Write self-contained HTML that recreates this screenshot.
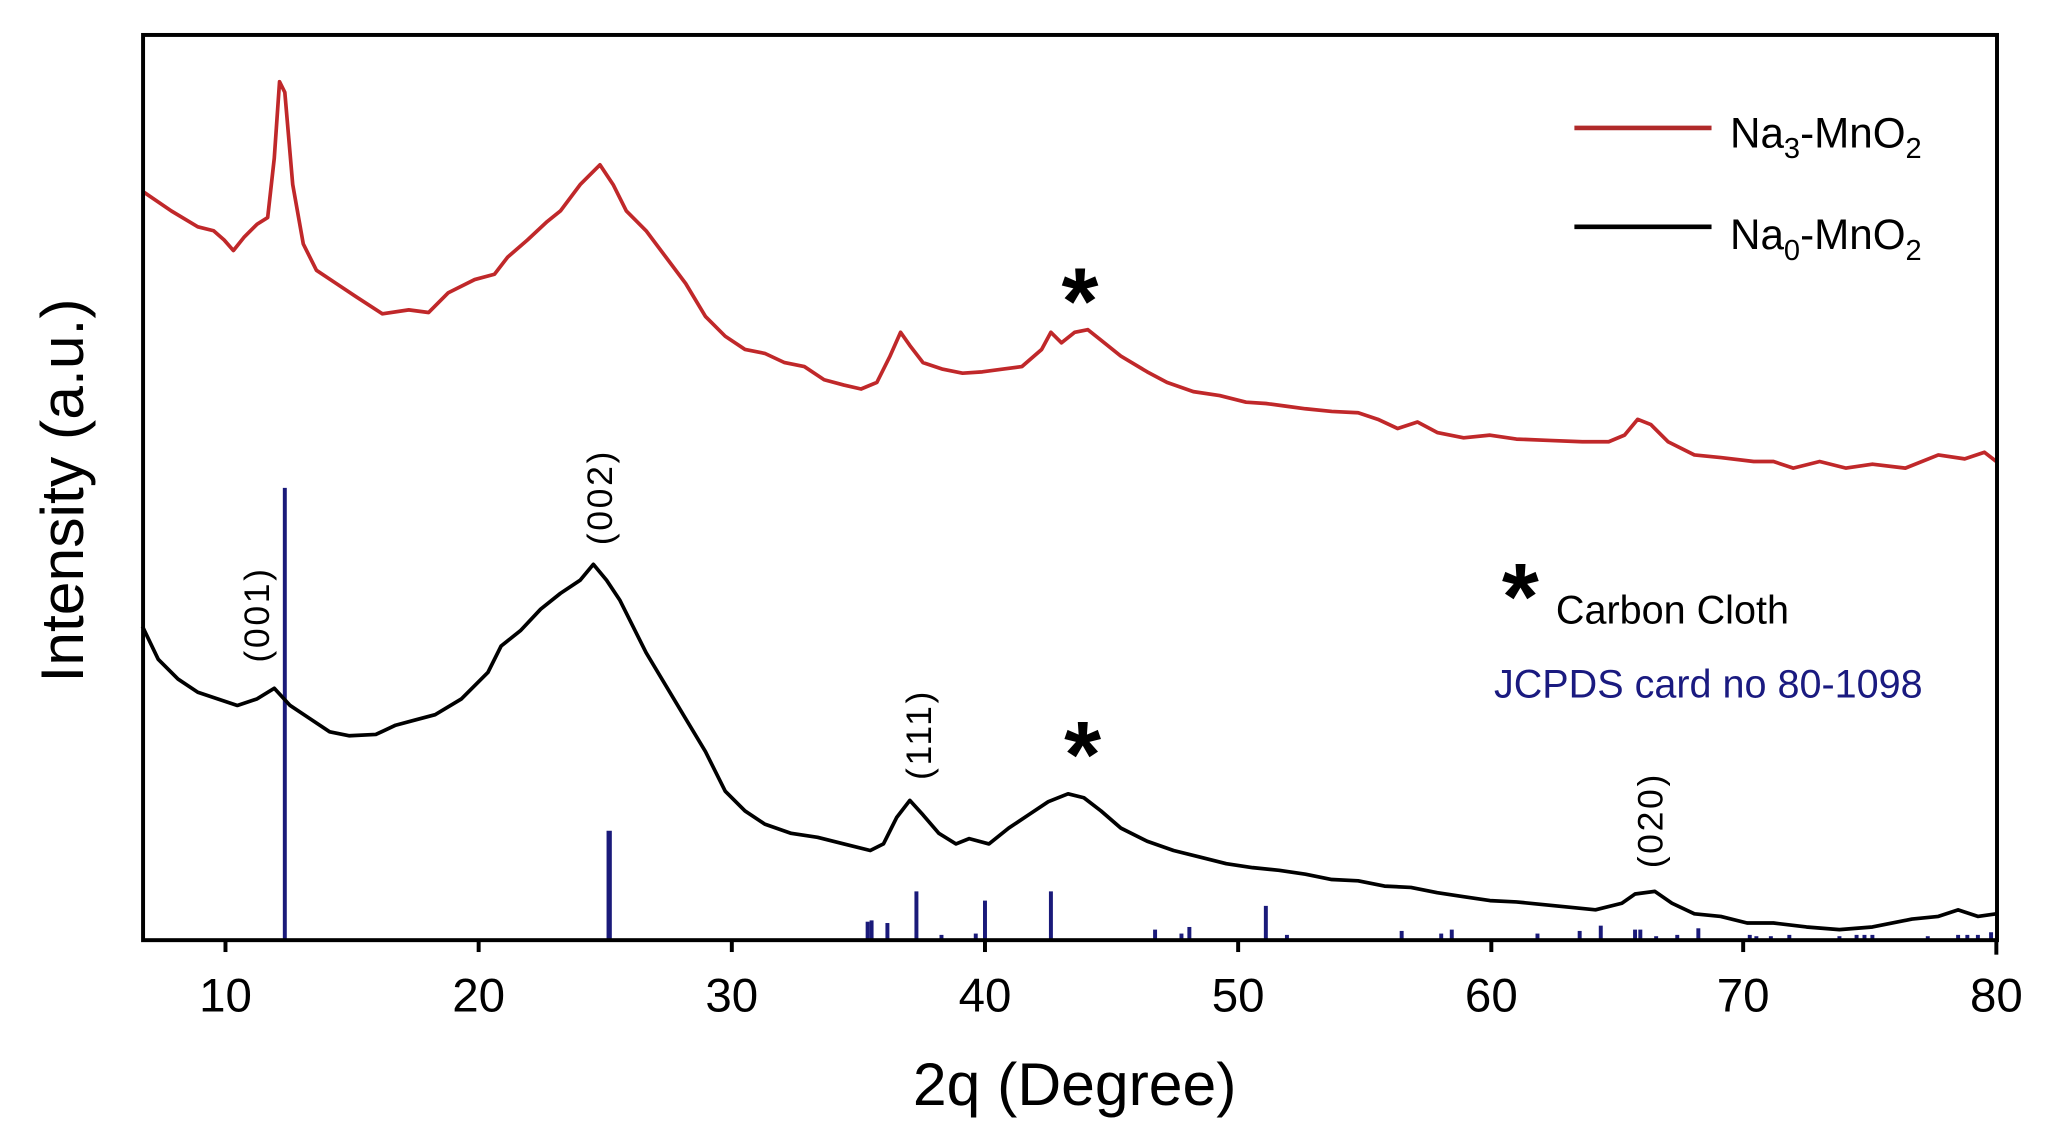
<!DOCTYPE html>
<html><head><meta charset="utf-8"><style>html,body{margin:0;padding:0;background:#fff}svg{display:block}</style></head>
<body>
<svg width="2057" height="1134" viewBox="0 0 1560 860" xmlns="http://www.w3.org/2000/svg" font-family="Liberation Sans, Arial, sans-serif">
<rect width="1560" height="860" fill="#fff"/>
<g stroke="#1a1a7a" fill="none">
<line x1="216" y1="713" x2="216" y2="370" stroke-width="3"/>
<line x1="462" y1="713" x2="462" y2="630" stroke-width="4"/>
<g stroke-width="3">
<line x1="658" y1="713" x2="658" y2="699"/><line x1="661" y1="713" x2="661" y2="698"/>
<line x1="673" y1="713" x2="673" y2="700"/><line x1="695" y1="713" x2="695" y2="676"/>
<line x1="714" y1="713" x2="714" y2="709"/><line x1="740" y1="713" x2="740" y2="708"/>
<line x1="747" y1="713" x2="747" y2="683"/><line x1="797" y1="713" x2="797" y2="676"/>
<line x1="876" y1="713" x2="876" y2="705"/><line x1="896" y1="713" x2="896" y2="708"/>
<line x1="902" y1="713" x2="902" y2="703"/><line x1="960" y1="713" x2="960" y2="687"/>
<line x1="976" y1="713" x2="976" y2="709"/><line x1="1063" y1="713" x2="1063" y2="706"/>
<line x1="1093" y1="713" x2="1093" y2="708"/><line x1="1101" y1="713" x2="1101" y2="705"/>
<line x1="1166" y1="713" x2="1166" y2="708"/><line x1="1198" y1="713" x2="1198" y2="706"/>
<line x1="1214" y1="713" x2="1214" y2="702"/><line x1="1240" y1="713" x2="1240" y2="705"/>
<line x1="1244" y1="713" x2="1244" y2="705"/><line x1="1256" y1="713" x2="1256" y2="710"/>
<line x1="1272" y1="713" x2="1272" y2="709"/><line x1="1288" y1="713" x2="1288" y2="704"/>
<line x1="1327" y1="713" x2="1327" y2="709"/><line x1="1332" y1="713" x2="1332" y2="710"/>
<line x1="1343" y1="713" x2="1343" y2="710"/><line x1="1357" y1="713" x2="1357" y2="709"/>
<line x1="1395" y1="713" x2="1395" y2="710"/><line x1="1408" y1="713" x2="1408" y2="709"/>
<line x1="1414" y1="713" x2="1414" y2="709"/><line x1="1420" y1="713" x2="1420" y2="709"/>
<line x1="1462" y1="713" x2="1462" y2="710"/><line x1="1485" y1="713" x2="1485" y2="709"/>
<line x1="1492" y1="713" x2="1492" y2="709"/><line x1="1500" y1="713" x2="1500" y2="709"/>
<line x1="1510" y1="713" x2="1510" y2="707"/>
</g></g>
<polyline fill="none" stroke="#c0282a" stroke-width="2.8" stroke-linejoin="round" points="108,145 130,160 150,172 162,175 170,182 177,190 185,180 195,170 203,165 208,120 212,62 216,70 222,140 230,185 240,205 255,215 270,225 290,238 310,235 325,237 340,222 360,212 375,208 385,195 400,182 415,168 425,160 440,140 455,125 465,140 475,160 490,175 505,195 520,215 535,240 550,255 565,265 580,268 595,275 610,278 625,288 640,292 653,295 665,290 675,270 683,252 690,262 700,275 715,280 730,283 745,282 760,280 775,278 790,265 797,252 805,260 815,252 825,250 835,258 850,270 870,282 885,290 905,297 925,300 945,305 960,306 975,308 990,310 1010,312 1030,313 1045,318 1060,325 1075,320 1090,328 1110,332 1130,330 1150,333 1175,334 1200,335 1220,335 1232,330 1242,318 1252,322 1265,335 1285,345 1305,347 1330,350 1345,350 1360,355 1380,350 1400,355 1420,352 1445,355 1470,345 1490,348 1505,343 1514,350"/>
<polyline fill="none" stroke="#000" stroke-width="2.8" stroke-linejoin="round" points="108,475 120,500 135,515 150,525 165,530 180,535 195,530 208,522 220,535 235,545 250,555 265,558 285,557 300,550 315,546 330,542 350,530 370,510 380,490 395,478 410,462 425,450 440,440 450,428 460,440 470,455 480,475 490,495 505,520 520,545 535,570 550,600 565,615 580,625 600,632 620,635 640,640 660,645 670,640 680,620 690,607 700,618 712,632 725,640 735,636 750,640 765,628 780,618 795,608 810,602 822,605 835,615 850,628 870,638 890,645 910,650 930,655 950,658 970,660 990,663 1010,667 1030,668 1050,672 1070,673 1090,677 1110,680 1130,683 1150,684 1170,686 1190,688 1210,690 1230,685 1240,678 1255,676 1268,685 1285,693 1305,695 1325,700 1345,700 1370,703 1395,705 1420,703 1450,697 1470,695 1485,690 1500,695 1514,693"/>
<rect x="108.5" y="26.5" width="1406" height="686.5" fill="none" stroke="#000" stroke-width="3"/>
<g stroke="#000" stroke-width="3">
<line x1="171" y1="713" x2="171" y2="722"/><line x1="363" y1="713" x2="363" y2="722"/>
<line x1="555" y1="713" x2="555" y2="722"/><line x1="747" y1="713" x2="747" y2="722"/>
<line x1="939" y1="713" x2="939" y2="722"/><line x1="1131" y1="713" x2="1131" y2="722"/>
<line x1="1322" y1="713" x2="1322" y2="722"/><line x1="1514" y1="713" x2="1514" y2="724"/>
</g>
<g font-size="36" text-anchor="middle" fill="#000">
<text x="171" y="767">10</text><text x="363" y="767">20</text><text x="555" y="767">30</text>
<text x="747" y="767">40</text><text x="939" y="767">50</text><text x="1131" y="767">60</text>
<text x="1322" y="767">70</text><text x="1514" y="767">80</text>
</g>
<text x="815" y="838" font-size="46" text-anchor="middle">2q (Degree)</text>
<text transform="translate(63,372) rotate(-90)" font-size="46" text-anchor="middle">Intensity (a.u.)</text>
<g font-size="27" text-anchor="middle" letter-spacing="2">
<text transform="translate(204,466) rotate(-90)">(001)</text>
<text transform="translate(464,377) rotate(-90)">(002)</text>
<text transform="translate(706,557) rotate(-90)">(111)</text>
<text transform="translate(1261,622) rotate(-90)">(020)</text>
</g>
<g font-size="72" font-weight="bold" text-anchor="middle">
<text x="819" y="253">*</text><text x="821" y="597">*</text><text x="1153" y="477">*</text>
</g>
<text x="1180" y="473" font-size="30">Carbon Cloth</text>
<text x="1133" y="529" font-size="30" fill="#1a1a80">JCPDS card no 80-1098</text>
<line x1="1194" y1="97" x2="1298" y2="97" stroke="#b02a2a" stroke-width="3.5"/>
<line x1="1194" y1="172" x2="1298" y2="172" stroke="#000" stroke-width="3.5"/>
<text x="1312" y="112" font-size="32">Na<tspan font-size="22" dy="8">3</tspan><tspan dy="-8">-MnO</tspan><tspan font-size="22" dy="8">2</tspan></text>
<text x="1312" y="189" font-size="32">Na<tspan font-size="22" dy="8">0</tspan><tspan dy="-8">-MnO</tspan><tspan font-size="22" dy="8">2</tspan></text>
</svg>
</body></html>
